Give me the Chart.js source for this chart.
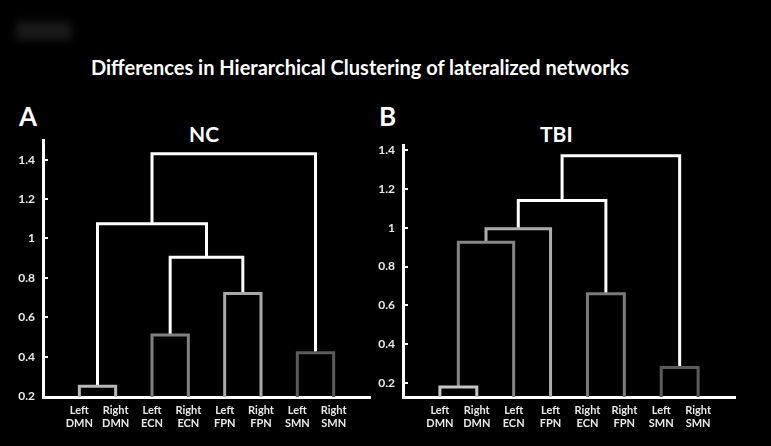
<!DOCTYPE html>
<html>
<head>
<meta charset="utf-8">
<script src="https://cdn.jsdelivr.net/npm/chart.js@4/dist/chart.umd.min.js"></script>
<style>
  html, body { margin:0; padding:0; background:#000; width:771px; height:446px; overflow:hidden; }
  .wrap { position:absolute; top:0; height:446px; }
  .txt { position:absolute; color:#fff; font-family:Lato, "Open Sans", sans-serif; font-weight:bold; white-space:nowrap; line-height:1; }
  #blur { position:absolute; left:16px; top:22px; width:55px; height:18px; background:#1a1a1a; filter:blur(4px); }
</style>
</head>
<body>
<div id="blur"></div>
<div class="txt" id="mainTitle" style="left:91px; top:57px; font-size:20px;">Differences in Hierarchical Clustering of lateralized networks</div>
<div class="txt" style="left:19px; top:103px; font-size:26px;">A</div>
<div class="txt" style="left:379px; top:103px; font-size:26px;">B</div>
<div class="txt" style="left:189px; top:123px; font-size:21px;">NC</div>
<div class="txt" style="left:540px; top:123px; font-size:21px;">TBI</div>
<div class="wrap" style="left:0; width:355px;"><canvas id="c1" width="385" height="446"></canvas></div>
<div class="wrap" style="left:355px; width:416px;"><canvas id="c2" width="416" height="446"></canvas></div>
<script>
// ---------- DATA ----------
const tickValues = [0.2, 0.4, 0.6, 0.8, 1.0, 1.2, 1.4];

// NC panel
const ncLeaves = [['Left','DMN'],['Right','DMN'],['Left','ECN'],['Right','ECN'],['Left','FPN'],['Right','FPN'],['Left','SMN'],['Right','SMN']];
// merges: node ids 0..7 are leaves, 8.. are merges (in order)
const ncChildA  = [0, 2, 4, 6,  9,  8, 13];
const ncChildB  = [1, 3, 5, 7, 10, 12, 11];
const ncHeights = [0.25, 0.51, 0.72, 0.42, 0.905, 1.075, 1.43];

// TBI panel
const tbiLeaves = [['Left','DMN'],['Right','DMN'],['Left','ECN'],['Left','FPN'],['Right','ECN'],['Right','FPN'],['Left','SMN'],['Right','SMN']];
const tbiChildA  = [0, 8, 9, 4, 6, 10, 13];
const tbiChildB  = [1, 2, 3, 5, 7, 11, 12];
const tbiHeights = [0.18, 0.925, 0.995, 0.66, 0.28, 1.14, 1.37];

// ---------- STYLE ----------
const ncColors  = ['#b8b8b8', '#808080', '#a8a8a8', '#5a5a5a', '#ffffff', '#ffffff', '#ffffff'];
const tbiColors = ['#c4c4c4', '#858585', '#acacac', '#7a7a7a', '#5a5a5a', '#ffffff', '#ffffff'];

function buildDatasets(childA, childB, heights, colors, nLeaves, baseY) {
  const pos = [], hgt = [];
  for (let i = 0; i < nLeaves; i++) { pos.push(i); hgt.push(baseY); }
  const ds = [];
  for (let m = 0; m < heights.length; m++) {
    const a = childA[m], b = childB[m], h = heights[m];
    ds.push({
      data: [ {x:pos[a], y:hgt[a]}, {x:pos[a], y:h}, {x:pos[b], y:h}, {x:pos[b], y:hgt[b]} ],
      showLine: true, borderColor: colors[m], borderWidth: 3, pointRadius: 0,
      tension: 0, fill: false, borderJoinStyle: 'miter', borderCapStyle: 'butt', clip: 3
    });
    pos.push((pos[a] + pos[b]) / 2);
    hgt.push(h);
  }
  return ds;
}

const tickMarks = {
  id: 'tickMarks',
  afterDraw(chart) {
    const y = chart.scales.y, ctx = chart.ctx, x0 = chart.chartArea.left;
    ctx.save();
    ctx.strokeStyle = '#fff'; ctx.lineWidth = 2;
    y.ticks.forEach(t => {
      const py = Math.round(y.getPixelForValue(t.value));
      if (py > chart.chartArea.bottom - 5) return;
      ctx.beginPath(); ctx.moveTo(x0, py); ctx.lineTo(x0 + 5, py); ctx.stroke();
    });
    ctx.restore();
  }
};

function makeChart(id, leaves, childA, childB, heights, colors, yMin, yMax, top, right, yWidth) {
  new Chart(document.getElementById(id), {
    type: 'scatter',
    data: { datasets: buildDatasets(childA, childB, heights, colors, leaves.length, yMin) },
    options: {
      responsive: false, animation: false, devicePixelRatio: 1,
      layout: { padding: { left: 0, top: top, right: right, bottom: 0 } },
      plugins: { legend: { display: false }, tooltip: { enabled: false } },
      scales: {
        x: {
          type: 'linear', min: -1, max: leaves.length,
          afterBuildTicks: s => { s.ticks = leaves.map((_, i) => ({ value: i })); },
          afterFit: s => { s.height = 49; },
          grid: { display: false, drawTicks: false },
          border: { display: true, color: '#fff', width: 3 },
          ticks: {
            autoSkip: false, maxRotation: 0, padding: 7, color: '#e8e8e8',
            font: { family: 'Lato', size: 11, weight: 'bold', lineHeight: 1.2 },
            callback: (v) => leaves[Math.round(v)]
          }
        },
        y: {
          type: 'linear', min: yMin, max: yMax,
          afterBuildTicks: s => { s.ticks = tickValues.map(v => ({ value: v })); },
          afterFit: s => { s.width = yWidth; },
          grid: { display: false, drawTicks: false },
          border: { display: true, color: '#fff', width: 3 },
          ticks: {
            padding: 8, color: '#e8e8e8',
            font: { family: 'Lato', size: 12, weight: 'bold' },
            callback: v => (Math.abs(v - 1) < 1e-9 ? '1' : v.toFixed(1))
          }
        }
      }
    },
    plugins: [tickMarks]
  });
}

makeChart('c1', ncLeaves, ncChildA, ncChildB, ncHeights, ncColors, 0.195, 1.50, 140, 15, 43);
makeChart('c2', tbiLeaves, tbiChildA, tbiChildB, tbiHeights, tbiColors, 0.128, 1.426, 145, 36, 48);
</script>
</body>
</html>
